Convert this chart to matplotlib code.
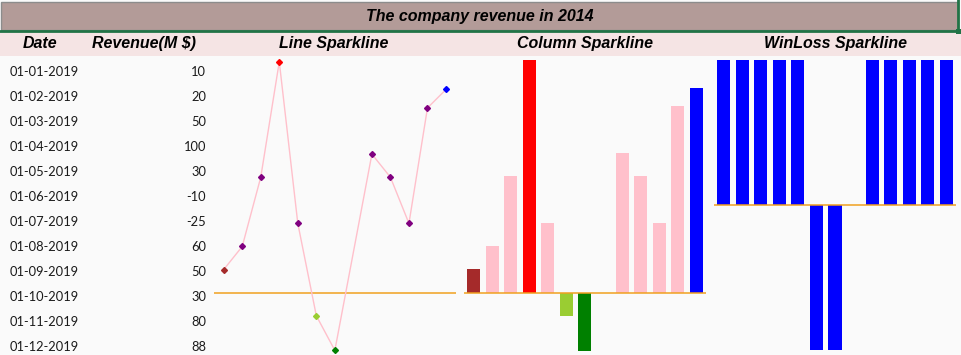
import matplotlib
matplotlib.use("Agg")
import matplotlib.pyplot as plt
from matplotlib.patches import Rectangle

dates = ['01-01-2019', '01-02-2019', '01-03-2019', '01-04-2019', '01-05-2019', '01-06-2019',
         '01-07-2019', '01-08-2019', '01-09-2019', '01-10-2019', '01-11-2019', '01-12-2019']
revenue = [10, 20, 50, 100, 30, -10, -25, 60, 50, 30, 80, 88]
# sparkline source range has one blank cell between Jul and Aug
spark_cells = [10, 20, 50, 100, 30, -10, -25, None, 60, 50, 30, 80, 88]

title = 'The company revenue in 2014'
headers = ['Date', 'Revenue(M $)', 'Line Sparkline', 'Column Sparkline', 'WinLoss Sparkline']

W, H = 961, 355
fig = plt.figure(figsize=(W / 100, H / 100), dpi=100)
fig.patch.set_facecolor('#FAFAFA')


def px_axes(x0, y0, x1, y1):
    # axes placed by pixel box (top-left origin)
    ax = fig.add_axes([x0 / W, 1 - y1 / H, (x1 - x0) / W, (y1 - y0) / H])
    ax.set_facecolor('none')
    ax.axis('off')
    return ax


# table background, title, headers
base = px_axes(0, 0, W, H)
base.set_xlim(0, W)
base.set_ylim(H, 0)
base.add_patch(Rectangle((0, 31), W, 25, facecolor='#F5E4E4', edgecolor='none'))
base.add_patch(Rectangle((1, 2), 957, 28, facecolor='#B39B98', edgecolor='#8C8C8C', lw=1))
base.plot([0, 958], [31, 31], color='#217346', lw=2)
base.plot([958, 958], [0, 31], color='#217346', lw=2)
base.add_patch(Rectangle((956, 29), 5, 5, facecolor='#217346', edgecolor='none'))

hfont = dict(family='Liberation Sans', weight='bold', style='italic', fontsize=11.5, color='black')
base.text(480, 16, title, ha='center', va='center', **hfont)
for x, h in zip([40, 144, 334, 585, 835], headers):
    base.text(x, 43.5, h, ha='center', va='center', **hfont)

bfont = dict(family='Lato', fontsize=9.3, color='#1A1A1A')
for i, (d, v) in enumerate(zip(dates, revenue)):
    y = 72 + 25 * i
    base.text(10, y, d, ha='left', va='center', **bfont)
    base.text(206, y, str(v), ha='right', va='center', **bfont)

# sparkline colour rules
pts = [(i, v) for i, v in enumerate(spark_cells) if v is not None]
xs = [p[0] for p in pts]
vals = [p[1] for p in pts]
n = len(vals)
hi = vals.index(max(vals))
lo = vals.index(min(vals))


def point_color(k, other):
    if k == lo:
        return 'green'
    if k == hi:
        return 'red'
    if vals[k] < 0:
        return 'yellowgreen'
    if k == 0:
        return 'brown'
    if k == n - 1:
        return 'blue'
    return other


axis_col = '#F0A020'

# line sparkline
ax1 = px_axes(214, 56, 456, H)
ax1.set_xlim(-0.524, 12.54)
ax1.set_ylim(-27.0, 102.5)
ax1.axhline(0, color=axis_col, lw=1.1)
ax1.plot(xs, vals, color='#FFC0CB', lw=1, zorder=2)
for k in range(n):
    ax1.plot(xs[k], vals[k], marker='D', ms=3, color=point_color(k, 'purple'), zorder=3)

# column sparkline
ax2 = px_axes(455, 56, 708, H)
ax2.set_xlim(-0.996, 12.63)
ax2.set_ylim(-26.85, 101.7)
ax2.bar(xs, vals, width=0.70, color=[point_color(k, 'pink') for k in range(n)])
ax2.hlines(0, -0.51, 12.5, color=axis_col, lw=1.1)

# win/loss sparkline
ax3 = px_axes(708, 56, W, H)
ax3.set_xlim(-0.834, 12.78)
ax3.set_ylim(-1.0345, 1.0276)
signs = [1 if v > 0 else -1 for v in vals]
ax3.bar(xs, signs, width=0.70, color='blue')
ax3.hlines(0, -0.52, 12.5, color=axis_col, lw=1.1)

fig.savefig('out.png', dpi=100, facecolor=fig.get_facecolor())
